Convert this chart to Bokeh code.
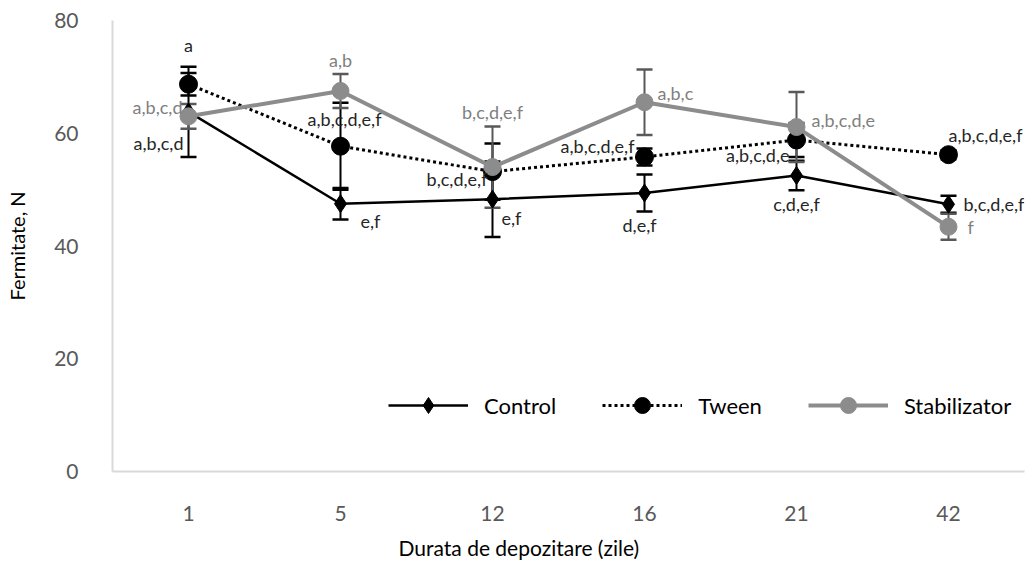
from bokeh.plotting import figure
from bokeh.models import (ColumnDataSource, FactorRange, Range1d, FixedTicker,
                          Legend, LegendItem, Title)
from bokeh.core.properties import value
from bokeh.embed import file_html
from bokeh.resources import INLINE

# Storage duration (days)
days = ["1", "5", "12", "16", "21", "42"]

# Firmness (N), mean and error
control = [63.8, 47.5, 48.3, 49.4, 52.5, 47.4]
control_err = [8.0, 2.8, 6.7, 3.3, 2.6, 1.5]
tween = [68.7, 57.7, 53.2, 55.8, 58.8, 56.2]
tween_err = [2.0, 7.7, 5.0, 1.5, 3.0, 0.8]
stab = [63.0, 67.5, 54.0, 65.5, 61.1, 43.4]
stab_err = [2.2, 3.0, 7.2, 5.8, 6.2, 2.3]

# Significance letters
control_sig = ["a,b,c,d", "e,f", "e,f", "d,e,f", "c,d,e,f", "b,c,d,e,f"]
tween_sig = ["a", "a,b,c,d,e,f", "b,c,d,e,f", "a,b,c,d,e,f", "a,b,c,d,e", "a,b,c,d,e,f"]
stab_sig = ["a,b,c,d", "a,b", "b,c,d,e,f", "a,b,c", "a,b,c,d,e", "f"]

y_ticks = [0, 20, 40, 60, 80]

FONT = "Lato"
GREY = "#8c8c8c"
DARK = "#262626"

p = figure(width=1036, height=572,
           x_range=FactorRange(factors=days, range_padding=0),
           y_range=Range1d(0, 80),
           output_backend="svg", toolbar_location=None,
           min_border_left=112, min_border_right=12,
           min_border_top=20, min_border_bottom=101)
p.outline_line_color = None
p.xgrid.grid_line_color = None
p.ygrid.grid_line_color = None
p.background_fill_color = "white"

for ax in (p.xaxis[0], p.yaxis[0]):
    ax.axis_line_color = "#d9d9d9"
    ax.axis_line_width = 2
    ax.major_tick_line_color = None
    ax.minor_tick_line_color = None
    ax.major_label_text_font = FONT
    ax.major_label_text_font_size = "21px"
    ax.major_label_text_color = "#595959"
    ax.axis_label_text_font = FONT
    ax.axis_label_text_font_size = "20px"
    ax.axis_label_text_font_style = "normal"
    ax.axis_label_text_color = "#000000"

p.yaxis.ticker = FixedTicker(ticks=y_ticks)
p.yaxis.major_label_standoff = 28
p.yaxis.axis_label = "Fermitate, N"
p.yaxis.axis_label_standoff = 22
p.xaxis.major_label_standoff = 28

# x-axis title, set slightly left of the frame centre
x_title = Title(text="Durata de depozitare (zile)", align="left", offset=286,
                text_font=FONT, text_font_size="21px",
                text_font_style="normal", text_color="#000000",
                standoff=18)
p.add_layout(x_title, "below")


def series_source(vals, errs, sig):
    return ColumnDataSource(dict(
        x=days, y=vals,
        lo=[v - e for v, e in zip(vals, errs)],
        hi=[v + e for v, e in zip(vals, errs)],
        sig=sig))


src_c = series_source(control, control_err, control_sig)
src_t = series_source(tween, tween_err, tween_sig)
src_s = series_source(stab, stab_err, stab_sig)

# error bars
for src, col in ((src_c, "black"), (src_t, "black"), (src_s, "#595959")):
    p.segment(x0="x", y0="lo", x1="x", y1="hi", source=src,
              line_color=col, line_width=2)
    p.scatter(x="x", y="lo", source=src, marker="dash", size=16,
              line_color=col, line_width=2.5)
    p.scatter(x="x", y="hi", source=src, marker="dash", size=16,
              line_color=col, line_width=2.5)

# series
lc = p.line(x="x", y="y", source=src_c, line_color="black", line_width=2.5)
mc = p.scatter(x="x", y="y", source=src_c, marker="diamond", size=18,
               fill_color="black", line_color="black")
lt = p.line(x="x", y="y", source=src_t, line_color="black", line_width=3,
            line_dash="3 3")
mt = p.scatter(x="x", y="y", source=src_t, marker="circle", size=18,
               fill_color="black", line_color="black")
ls = p.line(x="x", y="y", source=src_s, line_color=GREY, line_width=4)
ms = p.scatter(x="x", y="y", source=src_s, marker="circle", size=17,
               fill_color=GREY, line_color=GREY)

# letter labels placed around each point (screen-pixel offsets)
label_place = {
    "control": dict(dx=[-5, 20, 9, -5, 0, 15], dy=[31, 17, 19, 32, 28, 0],
                    align=["right", "left", "left", "center", "center", "left"]),
    "tween": dict(dx=[0, 4, -5, -10, -7, 0], dy=[-39, -27, 7, -11, 15, -20],
                  align=["center", "center", "right", "right", "right", "left"]),
    "stab": dict(dx=[-6, 0, 0, 13, 15, 19], dy=[-9, -31, -55, -9, -7, 0],
                 align=["right", "center", "center", "left", "left", "left"]),
}

for key, src, col in (("control", src_c, DARK), ("tween", src_t, DARK),
                      ("stab", src_s, "#7f7f7f")):
    pl = label_place[key]
    lab = ColumnDataSource(dict(x=src.data["x"], y=src.data["y"],
                                sig=src.data["sig"], dx=pl["dx"],
                                dy=pl["dy"], align=pl["align"]))
    p.text(x="x", y="y", text="sig", source=lab, x_offset="dx", y_offset="dy",
           text_align="align", text_baseline="middle",
           text_font=value(FONT), text_font_size="18px", text_color=col)

legend = Legend(items=[
    LegendItem(label="Control", renderers=[lc, mc]),
    LegendItem(label="Tween", renderers=[lt, mt]),
    LegendItem(label="Stabilizator", renderers=[ls, ms]),
], orientation="horizontal", location=(276, 46),
    glyph_width=80, glyph_height=40, label_standoff=16, spacing=46,
    padding=0, margin=0, border_line_color=None,
    background_fill_alpha=0,
    label_text_font=FONT, label_text_font_size="22px",
    label_text_color="#000000")
p.add_layout(legend)

open("out.html", "w").write(file_html(p, INLINE))
